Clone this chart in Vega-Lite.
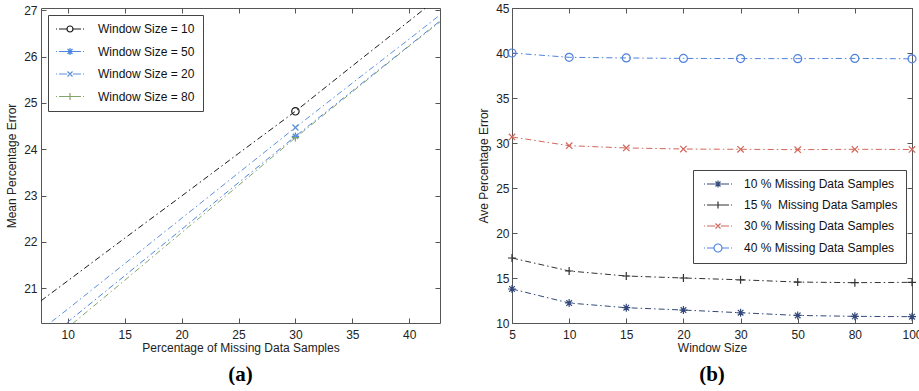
{
  "$schema": "https://vega.github.io/schema/vega-lite/v6.json",
  "padding": {"top": 2, "left": 5, "right": 0, "bottom": 0},
  "background": "white",
  "spacing": 36,
  "resolve": {"scale": {"color": "independent"}, "legend": {"color": "independent"}},
  "config": {
    "view": {"stroke": null},
    "font": "Liberation Sans",
    "axis": {
      "labelFont": "Liberation Sans", "labelFontSize": 12, "labelColor": "#222",
      "titleFont": "Liberation Sans", "titleFontSize": 12, "titleFontWeight": "normal", "titleColor": "#222",
      "domainColor": "#555", "tickColor": "#555", "grid": false, "tickSize": -5
    },
    "title": {"font": "Liberation Serif", "fontSize": 21, "fontWeight": "bold", "color": "#000", "orient": "bottom", "offset": 11}
  },
  "datasets": {
    "a": [
      {"s": "Window Size = 10", "x": 7.65, "y": 20.73}, {"s": "Window Size = 10", "x": 10, "y": 21.16}, {"s": "Window Size = 10", "x": 15, "y": 22.08}, {"s": "Window Size = 10", "x": 20, "y": 22.99}, {"s": "Window Size = 10", "x": 25, "y": 23.91}, {"s": "Window Size = 10", "x": 30, "y": 24.82}, {"s": "Window Size = 10", "x": 35, "y": 25.8}, {"s": "Window Size = 10", "x": 40, "y": 26.77}, {"s": "Window Size = 10", "x": 42.7, "y": 27.3},
      {"s": "Window Size = 50", "x": 9, "y": 20.07}, {"s": "Window Size = 50", "x": 10, "y": 20.27}, {"s": "Window Size = 50", "x": 15, "y": 21.27}, {"s": "Window Size = 50", "x": 20, "y": 22.27}, {"s": "Window Size = 50", "x": 25, "y": 23.28}, {"s": "Window Size = 50", "x": 30, "y": 24.28}, {"s": "Window Size = 50", "x": 35, "y": 25.26}, {"s": "Window Size = 50", "x": 40, "y": 26.24}, {"s": "Window Size = 50", "x": 42.7, "y": 26.77},
      {"s": "Window Size = 20", "x": 7.65, "y": 20.1}, {"s": "Window Size = 20", "x": 10, "y": 20.55}, {"s": "Window Size = 20", "x": 15, "y": 21.53}, {"s": "Window Size = 20", "x": 20, "y": 22.51}, {"s": "Window Size = 20", "x": 25, "y": 23.49}, {"s": "Window Size = 20", "x": 30, "y": 24.47}, {"s": "Window Size = 20", "x": 35, "y": 25.43}, {"s": "Window Size = 20", "x": 40, "y": 26.38}, {"s": "Window Size = 20", "x": 42.7, "y": 26.9},
      {"s": "Window Size = 80", "x": 9.5, "y": 20.05}, {"s": "Window Size = 80", "x": 10, "y": 20.15}, {"s": "Window Size = 80", "x": 15, "y": 21.17}, {"s": "Window Size = 80", "x": 20, "y": 22.2}, {"s": "Window Size = 80", "x": 25, "y": 23.22}, {"s": "Window Size = 80", "x": 30, "y": 24.25}, {"s": "Window Size = 80", "x": 35, "y": 25.24}, {"s": "Window Size = 80", "x": 40, "y": 26.23}, {"s": "Window Size = 80", "x": 42.7, "y": 26.75}
    ],
    "b": [
      {"s": "10 % Missing Data Samples", "w": "5", "y": 13.78}, {"s": "10 % Missing Data Samples", "w": "10", "y": 12.22}, {"s": "10 % Missing Data Samples", "w": "15", "y": 11.7}, {"s": "10 % Missing Data Samples", "w": "20", "y": 11.44}, {"s": "10 % Missing Data Samples", "w": "30", "y": 11.14}, {"s": "10 % Missing Data Samples", "w": "50", "y": 10.84}, {"s": "10 % Missing Data Samples", "w": "80", "y": 10.74}, {"s": "10 % Missing Data Samples", "w": "100", "y": 10.7},
      {"s": "15 %\u00a0 Missing Data Samples", "w": "5", "y": 17.22}, {"s": "15 %\u00a0 Missing Data Samples", "w": "10", "y": 15.78}, {"s": "15 %\u00a0 Missing Data Samples", "w": "15", "y": 15.22}, {"s": "15 %\u00a0 Missing Data Samples", "w": "20", "y": 15.0}, {"s": "15 %\u00a0 Missing Data Samples", "w": "30", "y": 14.8}, {"s": "15 %\u00a0 Missing Data Samples", "w": "50", "y": 14.55}, {"s": "15 %\u00a0 Missing Data Samples", "w": "80", "y": 14.48}, {"s": "15 %\u00a0 Missing Data Samples", "w": "100", "y": 14.52},
      {"s": "30 % Missing Data Samples", "w": "5", "y": 30.67}, {"s": "30 % Missing Data Samples", "w": "10", "y": 29.7}, {"s": "30 % Missing Data Samples", "w": "15", "y": 29.45}, {"s": "30 % Missing Data Samples", "w": "20", "y": 29.33}, {"s": "30 % Missing Data Samples", "w": "30", "y": 29.3}, {"s": "30 % Missing Data Samples", "w": "50", "y": 29.26}, {"s": "30 % Missing Data Samples", "w": "80", "y": 29.3}, {"s": "30 % Missing Data Samples", "w": "100", "y": 29.28},
      {"s": "40 % Missing Data Samples", "w": "5", "y": 40.0}, {"s": "40 % Missing Data Samples", "w": "10", "y": 39.52}, {"s": "40 % Missing Data Samples", "w": "15", "y": 39.45}, {"s": "40 % Missing Data Samples", "w": "20", "y": 39.4}, {"s": "40 % Missing Data Samples", "w": "30", "y": 39.38}, {"s": "40 % Missing Data Samples", "w": "50", "y": 39.37}, {"s": "40 % Missing Data Samples", "w": "80", "y": 39.4}, {"s": "40 % Missing Data Samples", "w": "100", "y": 39.35}
    ]
  },
  "hconcat": [
    {
      "width": 399, "height": 315,
      "title": "(a)",
      "data": {"name": "a"},
      "encoding": {
        "x": {"field": "x", "type": "quantitative", "scale": {"domain": [7.65, 42.7], "nice": false, "zero": false}},
        "y": {"field": "y", "type": "quantitative", "scale": {"domain": [20.25, 27.05], "nice": false, "zero": false}},
        "color": {"field": "s", "type": "nominal", "scale": {"domain": ["Window Size = 10", "Window Size = 50", "Window Size = 20", "Window Size = 80"], "range": ["#1a1a1a", "#4a86e0", "#5b8fdc", "#86a36a"]}, "legend": null}
      },
      "layer": [
        {
          "mark": {"type": "line", "clip": true, "strokeWidth": 1, "strokeDash": [6, 3, 1.5, 3]},
          "encoding": {
            "x": {"field": "x", "type": "quantitative", "axis": {"values": [10, 15, 20, 25, 30, 35, 40], "title": "Percentage of Missing Data Samples", "labelPadding": 11, "titlePadding": 2}},
            "y": {"field": "y", "type": "quantitative", "axis": {"values": [21, 22, 23, 24, 25, 26, 27], "title": "Mean Percentage Error", "labelPadding": 9, "titlePadding": 5}},
            "color": {
              "field": "s", "type": "nominal",
              "legend": {
                "orient": "none", "legendX": 7, "legendY": 7, "title": null,
                "strokeColor": "#444", "fillColor": "#fff", "padding": 8, "rowPadding": 10.5,
                "labelFont": "Liberation Sans", "labelFontSize": 12, "labelColor": "#111",
                "symbolSize": 100, "symbolOffset": 8, "labelOffset": 22, "symbolStrokeWidth": 1.2, "symbolFillColor": "transparent", "symbolDash": [],
                "encode": {"symbols": {"update": {
                  "shape": {"signal": "datum.value === 'Window Size = 10' ? 'M-2.8,0H-2.6M-2.2,0H-0.6M0.6,0H2.2M2.6,0H2.8M0.6,0A0.6,0.6 0 1 1 -0.6,0A0.6,0.6 0 1 1 0.6,0' : datum.value === 'Window Size = 50' ? 'M-2.8,0H-2.6M-2.2,0H-0.6M0.6,0H2.2M2.6,0H2.8M-0.7,0H0.7M0,-0.7V0.7M-0.5,-0.5L0.5,0.5M-0.5,0.5L0.5,-0.5' : datum.value === 'Window Size = 20' ? 'M-2.8,0H-2.6M-2.2,0H-0.6M0.6,0H2.2M2.6,0H2.8M-0.5,-0.5L0.5,0.5M-0.5,0.5L0.5,-0.5' : 'M-2.8,0H-2.6M-2.2,0H-0.6M0.6,0H2.2M2.6,0H2.8M-0.7,0H0.7M0,-0.7V0.7'"},
                  "size": {"value": 100},
                  "fill": {"value": "transparent"},
                  "strokeWidth": {"value": 1.2}
                }}}
              }
            }
          }
        },
        {
          "transform": [{"filter": "datum.x === 30 && datum.s === 'Window Size = 10'"}],
          "mark": {"type": "point", "shape": "circle", "filled": false, "strokeWidth": 1.2, "size": 55, "opacity": 1, "clip": true},
          "encoding": {"x": {"field": "x", "type": "quantitative", "axis": null}, "y": {"field": "y", "type": "quantitative", "axis": null}}
        },
        {
          "transform": [{"filter": "datum.x === 30 && datum.s === 'Window Size = 50'"}],
          "mark": {"type": "point", "shape": "M-1,0H1M0,-1V1M-0.7,-0.7L0.7,0.7M-0.7,0.7L0.7,-0.7", "filled": false, "strokeWidth": 1.2, "size": 55, "opacity": 1, "clip": true},
          "encoding": {"x": {"field": "x", "type": "quantitative", "axis": null}, "y": {"field": "y", "type": "quantitative", "axis": null}}
        },
        {
          "transform": [{"filter": "datum.x === 30 && datum.s === 'Window Size = 20'"}],
          "mark": {"type": "point", "shape": "M-0.8,-0.8L0.8,0.8M-0.8,0.8L0.8,-0.8", "filled": false, "strokeWidth": 1.2, "size": 55, "opacity": 1, "clip": true},
          "encoding": {"x": {"field": "x", "type": "quantitative", "axis": null}, "y": {"field": "y", "type": "quantitative", "axis": null}}
        },
        {
          "transform": [{"filter": "datum.x === 30 && datum.s === 'Window Size = 80'"}],
          "mark": {"type": "point", "shape": "M-1,0H1M0,-1V1", "filled": false, "strokeWidth": 1.2, "size": 55, "opacity": 1, "clip": true},
          "encoding": {"x": {"field": "x", "type": "quantitative", "axis": null}, "y": {"field": "y", "type": "quantitative", "axis": null}}
        },
        {
          "mark": {"type": "point", "opacity": 0, "clip": true},
          "encoding": {
            "x": {"field": "x", "type": "quantitative", "axis": {"orient": "top", "values": [10, 15, 20, 25, 30, 35, 40], "labels": false, "title": null}},
            "y": {"field": "y", "type": "quantitative", "axis": {"orient": "right", "values": [21, 22, 23, 24, 25, 26, 27], "labels": false, "title": null}}
          }
        }
      ],
      "resolve": {"axis": {"x": "independent", "y": "independent"}}
    },
    {
      "width": 400, "height": 315,
      "title": "(b)",
      "data": {"name": "b"},
      "encoding": {
        "x": {"field": "w", "type": "ordinal", "sort": ["5", "10", "15", "20", "30", "50", "80", "100"], "scale": {"type": "point", "padding": 0}},
        "y": {"field": "y", "type": "quantitative", "scale": {"domain": [10, 45], "nice": false, "zero": false}},
        "color": {"field": "s", "type": "nominal", "scale": {"domain": ["10 % Missing Data Samples", "15 %\u00a0 Missing Data Samples", "30 % Missing Data Samples", "40 % Missing Data Samples"], "range": ["#34497a", "#333333", "#d2665a", "#4f82e0"]}, "legend": null}
      },
      "layer": [
        {
          "mark": {"type": "line", "strokeWidth": 1, "strokeDash": [6, 3, 1.5, 3]},
          "encoding": {
            "x": {"field": "w", "type": "ordinal", "sort": ["5", "10", "15", "20", "30", "50", "80", "100"], "axis": {"labelAngle": 0, "title": "Window Size", "labelPadding": 11, "titlePadding": 2}},
            "y": {"field": "y", "type": "quantitative", "axis": {"values": [10, 15, 20, 25, 30, 35, 40, 45], "title": "Ave Percentage Error", "labelPadding": 8, "titlePadding": 5}},
            "color": {
              "field": "s", "type": "nominal",
              "legend": {
                "orient": "none", "legendX": 181, "legendY": 162, "title": null,
                "strokeColor": "#444", "fillColor": "#fff", "padding": 8, "rowPadding": 9,
                "labelFont": "Liberation Sans", "labelFontSize": 12, "labelColor": "#111",
                "symbolSize": 100, "symbolOffset": 11, "labelOffset": 20, "symbolStrokeWidth": 1.2, "symbolFillColor": "transparent", "symbolDash": [],
                "encode": {"symbols": {"update": {
                  "shape": {"signal": "indexof(datum.value, '10 %') === 0 ? 'M-2.8,0H-2.6M-2.2,0H-0.6M0.6,0H2.2M2.6,0H2.8M-0.7,0H0.7M0,-0.7V0.7M-0.5,-0.5L0.5,0.5M-0.5,0.5L0.5,-0.5' : indexof(datum.value, '15 %') === 0 ? 'M-2.8,0H-2.6M-2.2,0H-0.6M0.6,0H2.2M2.6,0H2.8M-0.7,0H0.7M0,-0.7V0.7' : indexof(datum.value, '30 %') === 0 ? 'M-2.8,0H-2.6M-2.2,0H-0.6M0.6,0H2.2M2.6,0H2.8M-0.5,-0.5L0.5,0.5M-0.5,0.5L0.5,-0.5' : 'M-2.8,0H-2.6M-2.2,0H-0.8M0.8,0H2.2M2.6,0H2.8M0.8,0A0.8,0.8 0 1 1 -0.8,0A0.8,0.8 0 1 1 0.8,0'"},
                  "size": {"value": 100},
                  "fill": {"value": "transparent"},
                  "strokeWidth": {"value": 1.2}
                }}}
              }
            }
          }
        },
        {
          "transform": [{"filter": "datum.s === '10 % Missing Data Samples'"}],
          "mark": {"type": "point", "shape": "M-1,0H1M0,-1V1M-0.7,-0.7L0.7,0.7M-0.7,0.7L0.7,-0.7", "filled": false, "strokeWidth": 1.2, "size": 64, "opacity": 1},
          "encoding": {"x": {"field": "w", "type": "ordinal", "sort": ["5", "10", "15", "20", "30", "50", "80", "100"], "axis": null}, "y": {"field": "y", "type": "quantitative", "axis": null}}
        },
        {
          "transform": [{"filter": "indexof(datum.s, '15 %') === 0"}],
          "mark": {"type": "point", "shape": "M-1,0H1M0,-1V1", "filled": false, "strokeWidth": 1.2, "size": 64, "opacity": 1},
          "encoding": {"x": {"field": "w", "type": "ordinal", "sort": ["5", "10", "15", "20", "30", "50", "80", "100"], "axis": null}, "y": {"field": "y", "type": "quantitative", "axis": null}}
        },
        {
          "transform": [{"filter": "datum.s === '30 % Missing Data Samples'"}],
          "mark": {"type": "point", "shape": "M-0.8,-0.8L0.8,0.8M-0.8,0.8L0.8,-0.8", "filled": false, "strokeWidth": 1.2, "size": 64, "opacity": 1},
          "encoding": {"x": {"field": "w", "type": "ordinal", "sort": ["5", "10", "15", "20", "30", "50", "80", "100"], "axis": null}, "y": {"field": "y", "type": "quantitative", "axis": null}}
        },
        {
          "transform": [{"filter": "datum.s === '40 % Missing Data Samples'"}],
          "mark": {"type": "point", "shape": "circle", "filled": false, "strokeWidth": 1.2, "size": 64, "opacity": 1},
          "encoding": {"x": {"field": "w", "type": "ordinal", "sort": ["5", "10", "15", "20", "30", "50", "80", "100"], "axis": null}, "y": {"field": "y", "type": "quantitative", "axis": null}}
        },
        {
          "mark": {"type": "point", "opacity": 0, "clip": true},
          "encoding": {
            "x": {"field": "w", "type": "ordinal", "sort": ["5", "10", "15", "20", "30", "50", "80", "100"], "axis": {"orient": "top", "labels": false, "title": null}},
            "y": {"field": "y", "type": "quantitative", "axis": {"orient": "right", "values": [10, 15, 20, 25, 30, 35, 40, 45], "labels": false, "title": null}}
          }
        }
      ],
      "resolve": {"axis": {"x": "independent", "y": "independent"}}
    }
  ]
}
